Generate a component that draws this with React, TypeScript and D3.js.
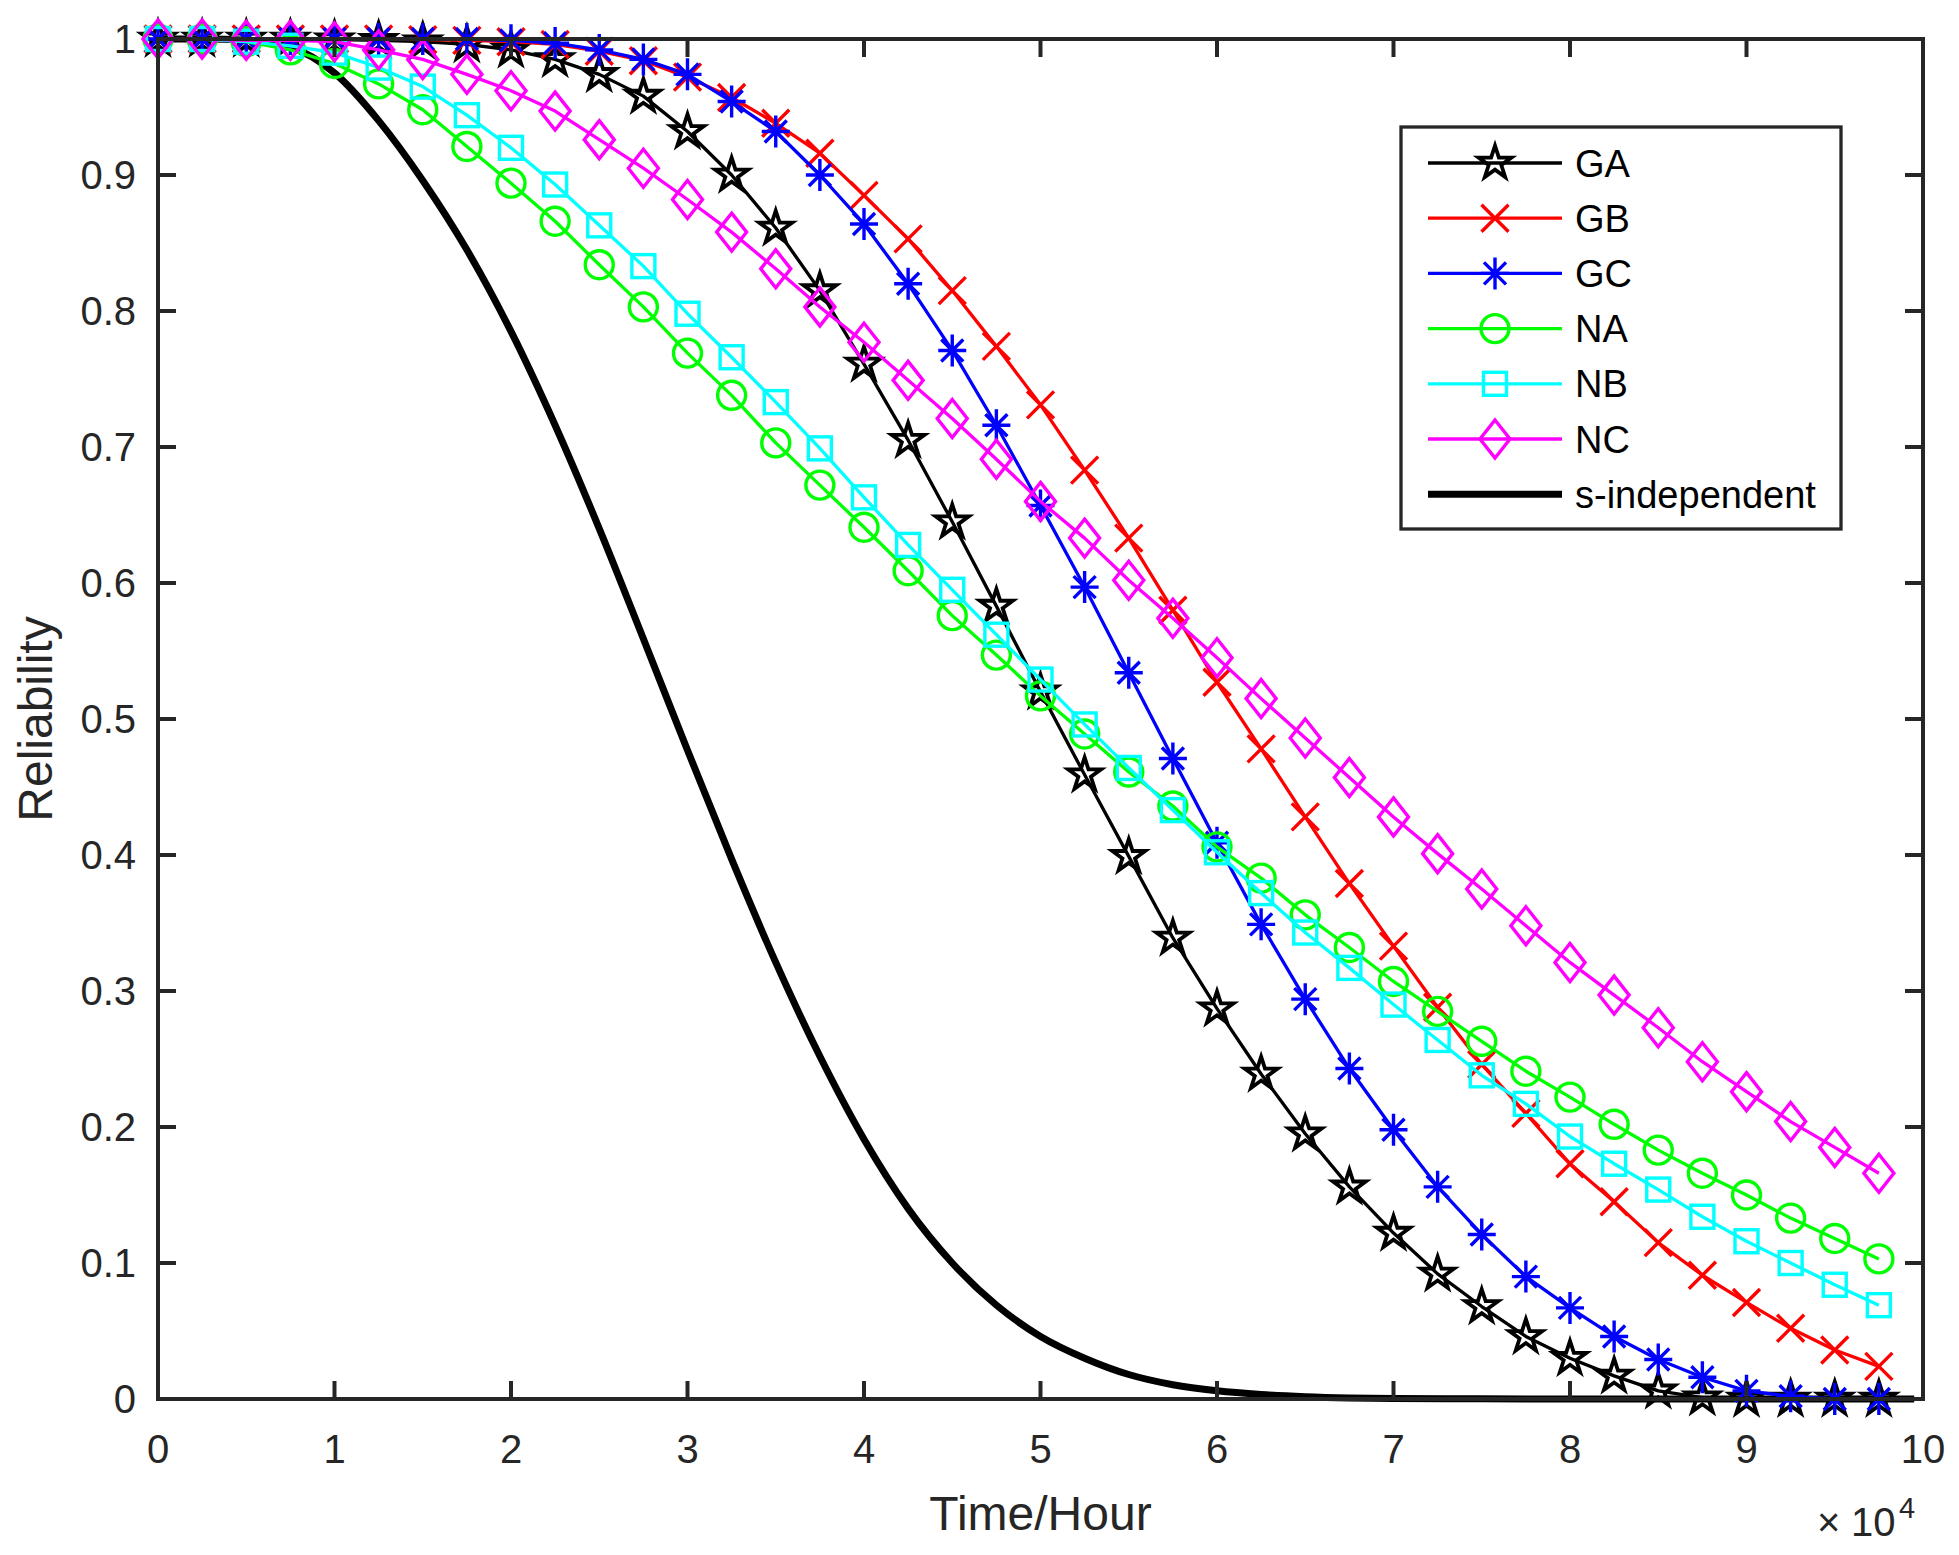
import React from 'react';
import * as d3 from 'd3';

// sampling times of the marked curves (hours)
const timeH = [
  0, 2500, 5000, 7500, 10000, 12500, 15000, 17500, 20000, 22500,
  25000, 27500, 30000, 32500, 35000, 37500, 40000, 42500, 45000, 47500,
  50000, 52500, 55000, 57500, 60000, 62500, 65000, 67500, 70000, 72500,
  75000, 77500, 80000, 82500, 85000, 87500, 90000, 92500, 95000, 97500,
];

const GA = [
  1.0, 1.0, 1.0, 1.0, 0.9995, 0.999, 0.998, 0.996, 0.992, 0.985,
  0.974, 0.958, 0.932, 0.9, 0.861, 0.815, 0.761, 0.705, 0.645, 0.583,
  0.52, 0.459, 0.399, 0.339, 0.287, 0.239, 0.195, 0.156, 0.122, 0.092,
  0.068, 0.046, 0.03, 0.017, 0.006, 0.001, 0, 0, 0, 0,
];
const GB = [
  1.0, 1.0, 1.0, 1.0, 1.0, 1.0, 0.9995, 0.999, 0.998, 0.996,
  0.991, 0.984, 0.972, 0.957, 0.938, 0.916, 0.885, 0.853, 0.815, 0.774,
  0.731, 0.683, 0.633, 0.58, 0.527, 0.478, 0.428, 0.379, 0.333, 0.288,
  0.246, 0.21, 0.173, 0.145, 0.115, 0.091, 0.071, 0.052, 0.036, 0.024,
];
const GC = [
  1.0, 1.0, 1.0, 1.0, 1.0, 1.0, 1.0, 1.0, 0.999, 0.997,
  0.992, 0.985, 0.974, 0.954, 0.932, 0.9, 0.864, 0.82, 0.771, 0.716,
  0.657, 0.597, 0.534, 0.471, 0.409, 0.349, 0.294, 0.243, 0.198, 0.156,
  0.121, 0.09, 0.067, 0.046, 0.029, 0.016, 0.006, 0.002, 0, 0,
];
const NA = [
  1.0, 1.0, 0.998, 0.992, 0.982, 0.967, 0.948, 0.921, 0.894, 0.866,
  0.834, 0.803, 0.769, 0.738, 0.703, 0.672, 0.641, 0.609, 0.576, 0.547,
  0.517, 0.489, 0.461, 0.436, 0.406, 0.383, 0.356, 0.332, 0.307, 0.285,
  0.263, 0.241, 0.222, 0.202, 0.183, 0.166, 0.15, 0.133, 0.118, 0.103,
];
const NB = [
  1.0, 1.0, 0.998, 0.995, 0.99, 0.979, 0.965, 0.944, 0.92, 0.893,
  0.863, 0.833, 0.798, 0.766, 0.733, 0.699, 0.663, 0.628, 0.595, 0.562,
  0.529, 0.496, 0.464, 0.433, 0.402, 0.372, 0.343, 0.317, 0.29, 0.264,
  0.238, 0.217, 0.193, 0.173, 0.154, 0.134, 0.116, 0.1, 0.084, 0.069,
];
const NC = [
  1.0, 1.0, 0.999, 0.999, 0.998, 0.992, 0.985, 0.974, 0.962, 0.947,
  0.926, 0.905, 0.882, 0.858, 0.831, 0.803, 0.777, 0.749, 0.721, 0.691,
  0.66, 0.633, 0.602, 0.574, 0.545, 0.515, 0.486, 0.457, 0.428, 0.401,
  0.375, 0.348, 0.321, 0.297, 0.273, 0.248, 0.226, 0.204, 0.185, 0.166,
];

// s-independent curve
const sIndepTime = [
  0, 2500, 5000, 7500, 10000, 12500, 15000, 17500, 20000, 22500,
  25000, 27500, 30000, 32500, 35000, 37500, 40000, 42500, 45000, 47500,
  50000, 52500, 55000, 57500, 60000, 62500, 65000, 67500, 70000, 75000,
  80000, 90000, 99500,
];
const sIndep = [
  1.0, 1.0, 0.999, 0.994, 0.975, 0.94, 0.896, 0.845, 0.785, 0.716,
  0.64, 0.559, 0.477, 0.397, 0.321, 0.252, 0.191, 0.14, 0.1, 0.069,
  0.046, 0.03, 0.018, 0.0105, 0.006, 0.0033, 0.0017, 0.0008, 0.0004, 0.0001,
  0, 0, 0,
];

const xTicks = [0, 1, 2, 3, 4, 5, 6, 7, 8, 9, 10];
const yTicks = [0, 0.1, 0.2, 0.3, 0.4, 0.5, 0.6, 0.7, 0.8, 0.9, 1];

type MarkerKind = 'star' | 'x' | 'asterisk' | 'circle' | 'square' | 'diamond';

const seriesList: { name: string; values: number[]; color: string; marker: MarkerKind }[] = [
  { name: 'GA', values: GA, color: '#000000', marker: 'star' },
  { name: 'GB', values: GB, color: '#ff0000', marker: 'x' },
  { name: 'GC', values: GC, color: '#0000ff', marker: 'asterisk' },
  { name: 'NA', values: NA, color: '#00ff00', marker: 'circle' },
  { name: 'NB', values: NB, color: '#00ffff', marker: 'square' },
  { name: 'NC', values: NC, color: '#ff00ff', marker: 'diamond' },
];

const W = 1959;
const H = 1555;
const plot = { left: 158, right: 1923, top: 39, bottom: 1399 };
const axisColor = '#262626';
const font = '"Liberation Sans", Arial, Helvetica, sans-serif';
const tickLen = 18;

const starPath = (() => {
  const R = 17.3;
  const r = R * 0.382;
  const pts: string[] = [];
  for (let i = 0; i < 10; i++) {
    const a = -Math.PI / 2 + (i * Math.PI) / 5;
    const rad = i % 2 === 0 ? R : r;
    pts.push(`${(rad * Math.cos(a)).toFixed(2)},${(rad * Math.sin(a)).toFixed(2)}`);
  }
  return `M${pts.join('L')}Z`;
})();

function Marker({ kind, color, x, y }: { kind: MarkerKind; color: string; x: number; y: number }) {
  const sw = 3.4;
  const common = { stroke: color, strokeWidth: sw, fill: 'none' };
  switch (kind) {
    case 'star':
      return <path d={starPath} transform={`translate(${x},${y})`} {...common} strokeWidth={3.8} strokeLinejoin="miter" />;
    case 'x':
      return (
        <path d="M-13.5,-13.5L13.5,13.5M-13.5,13.5L13.5,-13.5" transform={`translate(${x},${y})`} {...common} />
      );
    case 'asterisk':
      return (
        <path
          d="M0,-16L0,16M-14,0L14,0M-11,-11L11,11M-11,11L11,-11"
          transform={`translate(${x},${y})`}
          {...common}
        />
      );
    case 'circle':
      return <circle cx={x} cy={y} r={14} {...common} />;
    case 'square':
      return <rect x={x - 11.5} y={y - 11.5} width={23} height={23} {...common} />;
    case 'diamond':
      return <path d="M0,-19L15,0L0,19L-15,0Z" transform={`translate(${x},${y})`} {...common} />;
  }
}

export default function App() {
  const x = d3.scaleLinear().domain([0, 100000]).range([plot.left, plot.right]);
  const y = d3.scaleLinear().domain([0, 1]).range([plot.bottom, plot.top]);

  const line = d3
    .line<[number, number]>()
    .x(d => x(d[0]))
    .y(d => y(d[1]));

  const smoothLine = d3
    .line<[number, number]>()
    .x(d => x(d[0]))
    .y(d => y(d[1]))
    .curve(d3.curveMonotoneX);

  const sIndepPts = sIndepTime.map((t, i) => [t, sIndep[i]] as [number, number]);

  const legend = { x0: 1401, y0: 127, x1: 1841, y1: 529, rowY: 163, rowStep: 55.2 };

  return (
    <svg
      width={W}
      height={H}
      style={{ position: 'absolute', left: 0, top: 0, background: '#fff' }}
      fontFamily={font}
    >
      <rect x={0} y={0} width={W} height={H} fill="#fff" />

      {/* s-independent drawn first, markers sit over it */}
      <path d={smoothLine(sIndepPts) || ''} fill="none" stroke="#000" strokeWidth={7} strokeLinejoin="round" />

      {seriesList.map(s => {
        const pts = timeH.map((t, i) => [t, s.values[i]] as [number, number]);
        return (
          <g key={s.name}>
            <path d={line(pts) || ''} fill="none" stroke={s.color} strokeWidth={3.3} strokeLinejoin="round" />
            {pts.map((p, i) => (
              <Marker key={i} kind={s.marker} color={s.color} x={x(p[0])} y={y(p[1])} />
            ))}
          </g>
        );
      })}

      {/* axes box and ticks */}
      <rect
        x={plot.left}
        y={plot.top}
        width={plot.right - plot.left}
        height={plot.bottom - plot.top}
        fill="none"
        stroke={axisColor}
        strokeWidth={4}
      />
      {xTicks.map(t => (
        <g key={`xt${t}`}>
          <line x1={x(t * 1e4)} x2={x(t * 1e4)} y1={plot.bottom} y2={plot.bottom - tickLen} stroke={axisColor} strokeWidth={4} />
          <line x1={x(t * 1e4)} x2={x(t * 1e4)} y1={plot.top} y2={plot.top + tickLen} stroke={axisColor} strokeWidth={4} />
          <text x={x(t * 1e4)} y={1463} textAnchor="middle" fontSize={40} fill={axisColor}>
            {t}
          </text>
        </g>
      ))}
      {yTicks.map(v => (
        <g key={`yt${v}`}>
          <line x1={plot.left} x2={plot.left + tickLen} y1={y(v)} y2={y(v)} stroke={axisColor} strokeWidth={4} />
          <line x1={plot.right} x2={plot.right - tickLen} y1={y(v)} y2={y(v)} stroke={axisColor} strokeWidth={4} />
          <text x={136} y={y(v)} dy="0.36em" textAnchor="end" fontSize={40} fill={axisColor}>
            {String(v)}
          </text>
        </g>
      ))}

      {/* exponent */}
      <text x={1817} y={1536} fontSize={40} fill={axisColor}>×</text>
      <text x={1851} y={1536} fontSize={40} fill={axisColor}>10</text>
      <text x={1899} y={1518} fontSize={29} fill={axisColor}>4</text>

      {/* axis labels */}
      <text x={(plot.left + plot.right) / 2} y={1530} textAnchor="middle" fontSize={48} fill={axisColor}>
        Time/Hour
      </text>
      <text
        transform={`translate(52,${(plot.top + plot.bottom) / 2}) rotate(-90)`}
        textAnchor="middle"
        fontSize={48}
        fill={axisColor}
      >
        Reliability
      </text>

      {/* legend */}
      <rect
        x={legend.x0}
        y={legend.y0}
        width={legend.x1 - legend.x0}
        height={legend.y1 - legend.y0}
        fill="#fff"
        stroke={axisColor}
        strokeWidth={3.3}
      />
      {seriesList.map((s, i) => {
        const ry = legend.rowY + i * legend.rowStep;
        return (
          <g key={`lg${s.name}`}>
            <line x1={1428} x2={1562} y1={ry} y2={ry} stroke={s.color} strokeWidth={3.3} />
            <Marker kind={s.marker} color={s.color} x={1495} y={ry} />
            <text x={1575} y={ry} dy="0.36em" fontSize={38} fill="#000">
              {s.name}
            </text>
          </g>
        );
      })}
      <line
        x1={1428}
        x2={1562}
        y1={legend.rowY + 6 * legend.rowStep}
        y2={legend.rowY + 6 * legend.rowStep}
        stroke="#000"
        strokeWidth={7}
      />
      <text x={1575} y={legend.rowY + 6 * legend.rowStep} dy="0.36em" fontSize={38} fill="#000">
        s-independent
      </text>
    </svg>
  );
}
